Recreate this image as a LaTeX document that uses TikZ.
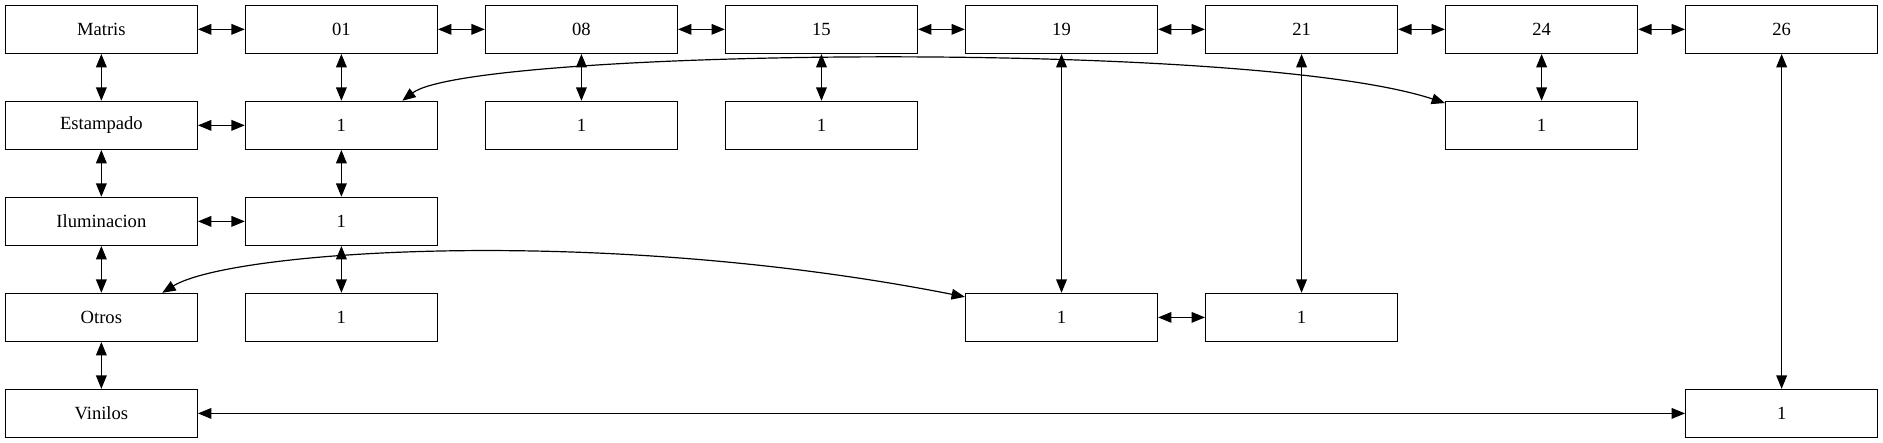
\documentclass[tikz,border=0pt]{standalone}
\usepackage{fontspec}
\setmainfont{Liberation Serif}
\usetikzlibrary{arrows.meta}

\begin{document}
\begin{tikzpicture}[x=1in, y=-1in, >={Triangle[length=10bp,width=8bp]},
		cell/.style={draw, line width=0.9pt, minimum width=2in, minimum height=0.5in, inner sep=0pt, font=\fontsize{14}{16}\selectfont},
		link/.style={<->, line width=0.9pt}]
			\useasboundingbox (-1.0556,-0.3056) rectangle (18.5556,4.3056);
			\node[cell] (matris) at (0,0) {Matris};
			\node[cell] (n01) at (2.5,0) {01};
			\node[cell] (n08) at (5,0) {08};
			\node[cell] (n15) at (7.5,0) {15};
			\node[cell] (n19) at (10,0) {19};
			\node[cell] (n21) at (12.5,0) {21};
			\node[cell] (n24) at (15,0) {24};
			\node[cell] (n26) at (17.5,0) {26};
			\node[cell] (estampado) at (0,1) {Estampado};
			\node[cell] (e01) at (2.5,1) {1};
			\node[cell] (e08) at (5,1) {1};
			\node[cell] (e15) at (7.5,1) {1};
			\node[cell] (e24) at (15,1) {1};
			\node[cell] (iluminacion) at (0,2) {Iluminacion};
			\node[cell] (i01) at (2.5,2) {1};
			\node[cell] (otros) at (0,3) {Otros};
			\node[cell] (x01) at (2.5,3) {1};
			\node[cell] (o19) at (10,3) {1};
			\node[cell] (o21) at (12.5,3) {1};
			\node[cell] (vinilos) at (0,4) {Vinilos};
			\node[cell] (v26) at (17.5,4) {1};

			\draw[link] (matris) -- (n01);
			\draw[link] (n01) -- (n08);
			\draw[link] (n08) -- (n15);
			\draw[link] (n15) -- (n19);
			\draw[link] (n19) -- (n21);
			\draw[link] (n21) -- (n24);
			\draw[link] (n24) -- (n26);
			\draw[link] (matris) -- (estampado);
			\draw[link] (estampado) -- (iluminacion);
			\draw[link] (iluminacion) -- (otros);
			\draw[link] (otros) -- (vinilos);
			\draw[link] (estampado) -- (e01);
			\draw[link] (n01) -- (e01);
			\draw[link] (e01) -- (i01);
			\draw[link] (iluminacion) -- (i01);
			\draw[link] (i01) -- (x01);
			\draw[link] (n08) -- (e08);
			\draw[link] (n15) -- (e15);
			\draw[link] (n24) -- (e24);
			\draw[link] (n19) -- (o19);
			\draw[link] (n21) -- (o21);
			\draw[link] (o19) -- (o21);
			\draw[link] (n26) -- (v26);
			\draw[link] (vinilos) -- (v26);
			\draw[link] (e01.22) .. controls +(0.71,-0.54) and +(-2.04,-0.67) .. (e24.167);
			\draw[link] (otros.22) .. controls +(0.71,-0.44) and +(-3.81,-0.75) .. (o19.168);
		\end{tikzpicture}
\end{document}
